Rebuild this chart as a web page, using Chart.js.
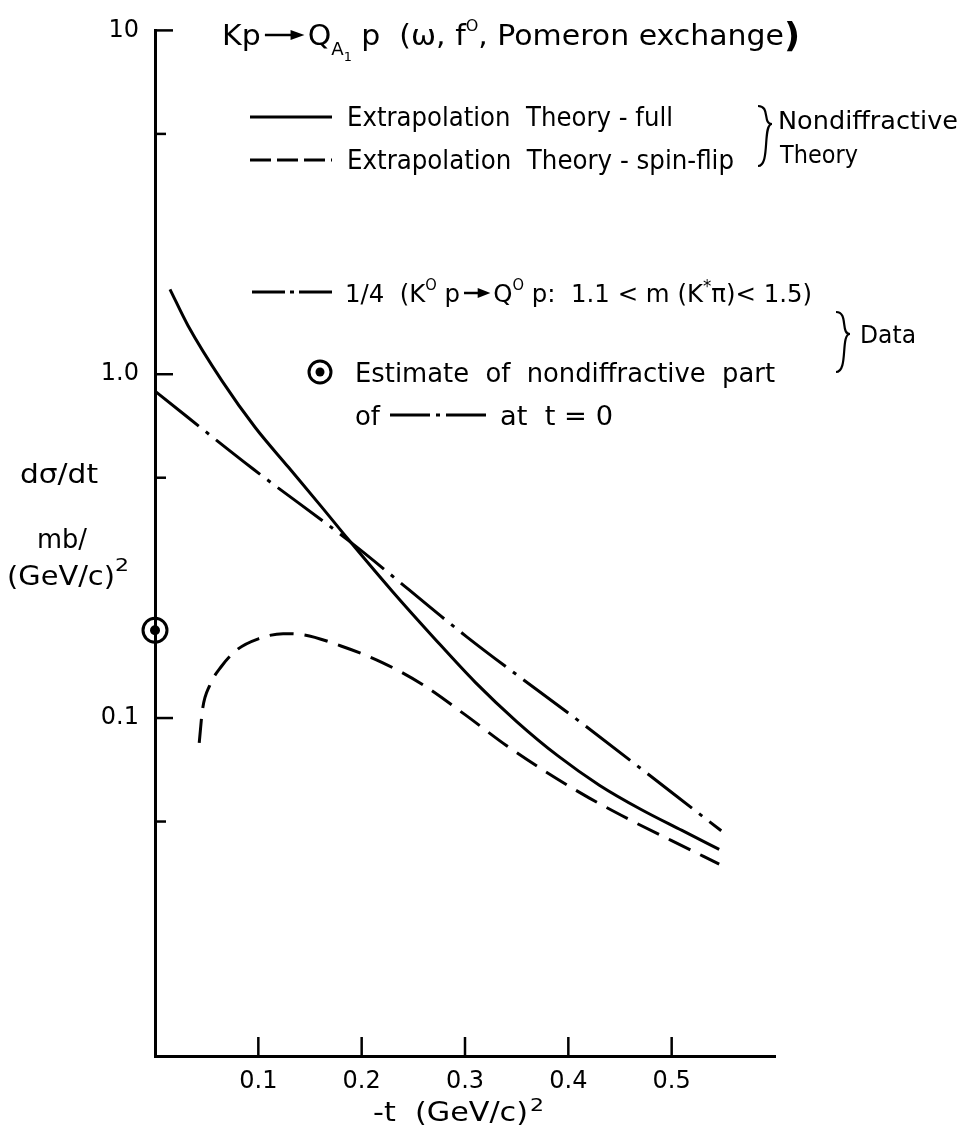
<!DOCTYPE html>
<html>
<head>
<meta charset="utf-8">
<script src="https://cdn.jsdelivr.net/npm/chart.js@4"></script>
<style>html,body{margin:0;padding:0;background:#fff}</style>
</head>
<body>
<canvas id="c" width="970" height="1137"></canvas>
<script>
// -t values (GeV/c)^2 and dsigma/dt (mb/(GeV/c)^2)
var tFull = [0.0145, 0.032, 0.065, 0.097, 0.129, 0.161, 0.187, 0.23, 0.27, 0.31, 0.35, 0.39, 0.43, 0.47, 0.51, 0.546];
var sigFull = [1.766, 1.384, 0.955, 0.700, 0.537, 0.412, 0.331, 0.233, 0.171, 0.127, 0.0977, 0.0776, 0.0638, 0.0543, 0.0471, 0.0415];

var tFlip = [0.0428, 0.046, 0.053, 0.064, 0.080, 0.100, 0.124, 0.142, 0.18, 0.22, 0.26, 0.30, 0.34, 0.38, 0.42, 0.46, 0.50, 0.546];
var sigFlip = [0.0847, 0.106, 0.1245, 0.141, 0.1585, 0.170, 0.176, 0.175, 0.162, 0.145, 0.1245, 0.1023, 0.0832, 0.0692, 0.0586, 0.0505, 0.0440, 0.0376];

var tData = [0, 0.095, 0.188, 0.302, 0.414, 0.548];
var sigData = [0.893, 0.530, 0.327, 0.172, 0.0961, 0.047];

var tEst = [0];
var sigEst = [0.18];

var xTicks = [0.1, 0.2, 0.3, 0.4, 0.5];
var xTickLabels = ['0.1', '0.2', '0.3', '0.4', '0.5'];
var yTicks = [10, 5, 1, 0.5, 0.1, 0.05];
var yTickLabels = ['10', '', '1.0', '', '0.1', ''];

var FONT = '"DejaVu Sans"';

function pts(xs, ys) {
  return xs.map(function (x, i) { return {x: x, y: ys[i]}; });
}

function txt(ctx, s, x, y, size, w, bold) {
  ctx.font = (bold ? 'bold ' : '') + size + 'px ' + FONT;
  var m = ctx.measureText(s).width;
  ctx.save();
  ctx.translate(x, y);
  ctx.scale(w / m, 1);
  ctx.fillText(s, 0, 0);
  ctx.restore();
}

function arrow(ctx, x1, x2, y) {
  ctx.lineWidth = 2.5;
  ctx.beginPath();
  ctx.moveTo(x1, y);
  ctx.lineTo(x2 - 10, y);
  ctx.stroke();
  ctx.beginPath();
  ctx.moveTo(x2, y);
  ctx.lineTo(x2 - 13, y - 5);
  ctx.lineTo(x2 - 13, y + 5);
  ctx.closePath();
  ctx.fill();
}

// lay out a line of mixed-size pieces and squeeze it to width w
function runs(ctx, parts, x, y, w) {
  var total = 0;
  parts.forEach(function (p) {
    if (p[0] === '@arrow') { total += p[1]; return; }
    ctx.font = (p[3] ? 'bold ' : '') + p[1] + 'px ' + FONT;
    total += ctx.measureText(p[0]).width;
  });
  ctx.save();
  ctx.translate(x, y);
  ctx.scale(w / total, 1);
  var cx = 0;
  parts.forEach(function (p) {
    if (p[0] === '@arrow') {
      arrow(ctx, cx + 4, cx + p[1] - 3, p[2]);
      cx += p[1];
      return;
    }
    ctx.font = (p[3] ? 'bold ' : '') + p[1] + 'px ' + FONT;
    ctx.fillText(p[0], cx, p[2] || 0);
    cx += ctx.measureText(p[0]).width;
  });
  ctx.restore();
}

function brace(ctx, x, y1, ym, y2, w) {
  ctx.lineWidth = 2.2;
  ctx.beginPath();
  ctx.moveTo(x, y1);
  ctx.bezierCurveTo(x + w * 0.9, y1, x + w * 0.3, ym, x + w, ym);
  ctx.bezierCurveTo(x + w * 0.3, ym, x + w * 0.9, y2, x, y2);
  ctx.stroke();
}

function sample(ctx, x1, x2, y, dash) {
  ctx.save();
  ctx.lineWidth = 3;
  ctx.setLineDash(dash);
  ctx.beginPath();
  ctx.moveTo(x1, y);
  ctx.lineTo(x2, y);
  ctx.stroke();
  ctx.restore();
}

var annotations = {
  id: 'annotations',
  afterDraw: function (chart) {
    var ctx = chart.ctx;
    var xs = chart.scales.x, ys = chart.scales.y;
    ctx.save();
    ctx.strokeStyle = '#000';
    ctx.fillStyle = '#000';
    ctx.lineWidth = 2.5;
    ctx.textBaseline = 'alphabetic';

    // inward tick marks
    var left = chart.chartArea.left, bottom = chart.chartArea.bottom;
    yTicks.forEach(function (v, i) {
      var py = ys.getPixelForValue(v);
      var len = yTickLabels[i] ? 18 : 11;
      ctx.beginPath();
      ctx.moveTo(left, py);
      ctx.lineTo(left + len, py);
      ctx.stroke();
    });
    xTicks.forEach(function (v) {
      var px = xs.getPixelForValue(v);
      ctx.beginPath();
      ctx.moveTo(px, bottom);
      ctx.lineTo(px, bottom - 19);
      ctx.stroke();
    });

    // title
    runs(ctx, [['Kp', 28], ['@arrow', 44, -10], ['Q', 28], ['A', 17, 10], ['1', 12, 16],
      [' p  (\u03c9, f', 28], ['O', 15, -14], [', Pomeron exchange', 28], [')', 33, 2, true]], 222, 45, 578);

    // legend
    sample(ctx, 250, 332, 117, []);
    txt(ctx, 'Extrapolation  Theory - full', 347, 126, 26, 326);
    sample(ctx, 250, 332, 160, [21, 6]);
    txt(ctx, 'Extrapolation  Theory - spin-flip', 347, 169, 26, 387);
    brace(ctx, 758, 106, 124, 166, 14);
    txt(ctx, 'Nondiffractive', 778, 129, 25, 180);
    txt(ctx, 'Theory', 780, 163, 25, 78);

    sample(ctx, 252, 335, 292, [33, 5, 4, 5]);
    runs(ctx, [['1/4  (K', 25], ['O', 15, -12], [' p', 25], ['@arrow', 34, -9], ['Q', 25], ['O', 15, -12],
      [' p:  1.1 < m (K', 25], ['*', 17, -10], ['\u03c0)< 1.5)', 25]], 345, 302, 467);
    brace(ctx, 836, 312, 334, 372, 14);
    txt(ctx, 'Data', 860, 343, 25, 56);

    ctx.lineWidth = 3;
    ctx.beginPath();
    ctx.arc(320, 372, 11, 0, Math.PI * 2);
    ctx.stroke();
    ctx.beginPath();
    ctx.arc(320, 372, 4.5, 0, Math.PI * 2);
    ctx.fill();
    txt(ctx, 'Estimate  of  nondiffractive  part', 355, 382, 26, 420);
    txt(ctx, 'of', 355, 425, 26, 25);
    sample(ctx, 390, 490, 415, [40, 6, 4, 6]);
    txt(ctx, 'at  t = 0', 500, 425, 26, 113);

    // axis titles
    txt(ctx, 'd\u03c3/dt', 20, 483, 27, 78);
    txt(ctx, 'mb/', 37, 548, 27, 50);
    txt(ctx, '(GeV/c)', 7, 585, 27, 108);
    txt(ctx, '2', 115, 571, 18, 14);
    txt(ctx, '-t  (GeV/c)', 373, 1121, 27, 155);
    txt(ctx, '2', 530, 1111, 18, 14);
    ctx.restore();
  }
};

var lineStyle = {
  borderColor: '#000',
  borderWidth: 3,
  pointRadius: 0,
  fill: false,
  cubicInterpolationMode: 'monotone',
  clip: false
};

new Chart(document.getElementById('c'), {
  type: 'line',
  data: {
    datasets: [
      Object.assign({label: 'Extrapolation Theory - full', data: pts(tFull, sigFull)}, lineStyle),
      Object.assign({label: 'Extrapolation Theory - spin-flip', data: pts(tFlip, sigFlip), borderDash: [24, 11]}, lineStyle),
      Object.assign({label: '1/4 (K0 p -> Q0 p)', data: pts(tData, sigData), borderDash: [56, 9, 4, 9]}, lineStyle),
      {label: 'Estimate ring', data: pts(tEst, sigEst), showLine: false, pointRadius: 12, pointBorderWidth: 3,
        pointBorderColor: '#000', pointBackgroundColor: 'rgba(0,0,0,0)', clip: false},
      {label: 'Estimate dot', data: pts(tEst, sigEst), showLine: false, pointRadius: 5, pointBorderWidth: 0,
        pointBackgroundColor: '#000', clip: false}
    ]
  },
  options: {
    responsive: false,
    animation: false,
    devicePixelRatio: 1,
    layout: {padding: {left: 0, right: 195, top: 18, bottom: 0}},
    plugins: {legend: {display: false}, title: {display: false}, tooltip: {enabled: false}},
    scales: {
      x: {
        type: 'linear', min: 0, max: 0.6,
        afterBuildTicks: function (s) { s.ticks = xTicks.map(function (v) { return {value: v}; }); },
        afterFit: function (s) { s.height = 81; },
        grid: {display: false, drawTicks: false},
        border: {display: true, color: '#000', width: 3},
        ticks: {
          padding: 11, color: '#000', autoSkip: false, maxRotation: 0,
          font: {family: FONT, size: 24},
          callback: function (v, i) { return xTickLabels[i]; }
        }
      },
      y: {
        type: 'logarithmic', min: 0.0104, max: 10,
        afterBuildTicks: function (s) { s.ticks = yTicks.map(function (v) { return {value: v}; }); },
        afterFit: function (s) { s.width = 155; },
        grid: {display: false, drawTicks: false},
        border: {display: true, color: '#000', width: 3},
        ticks: {
          padding: 16, color: '#000', autoSkip: false,
          font: {family: FONT, size: 24},
          callback: function (v, i) { return yTickLabels[i]; }
        }
      }
    }
  },
  plugins: [annotations]
});
</script>
</body>
</html>
